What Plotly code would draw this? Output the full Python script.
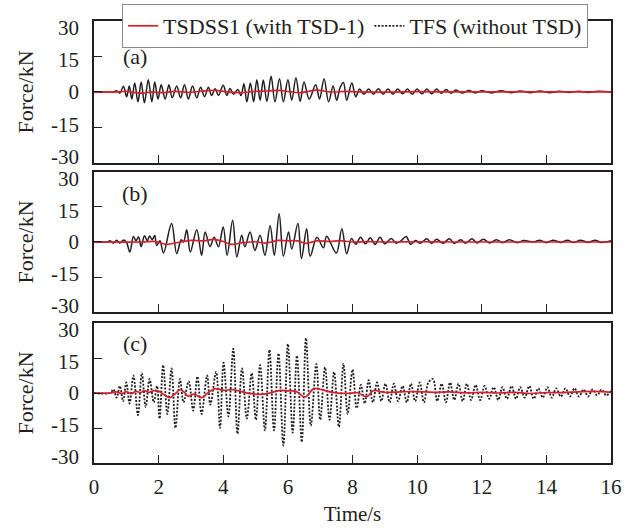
import plotly.graph_objects as go

# ---------------- data ----------------
x_ticks = [0, 2, 4, 6, 8, 10, 12, 14, 16]
x_ticklabels = ["0", "2", "4", "6", "8", "10", "12", "14", "16"]
y_ticks = [30, 15, 0, -15, -30]
y_ticklabels = ["30", "15", "0", "-15", "-30"]
panel_labels = ["(a)", "(b)", "(c)"]
series_names = ["TSDSS1 (with TSD-1)", "TFS (without TSD)"]

# Panel (a) - TFS (without TSD), extrema
t_a_tfs = [0, 0.6, 0.7, 0.8, 0.91, 1.01, 1.09, 1.17, 1.26, 1.36, 1.46, 1.56, 1.68, 1.79, 1.88, 1.98,
           2.08, 2.2, 2.32, 2.42, 2.56, 2.68, 2.8, 2.92, 3.05, 3.18, 3.3, 3.42, 3.54, 3.64, 3.75, 3.85,
           4.0, 4.11, 4.21, 4.32, 4.45, 4.55, 4.64, 4.73, 4.84, 4.94, 5.04, 5.14, 5.24, 5.35, 5.48, 5.6,
           5.74, 5.86, 6.0, 6.12, 6.25, 6.38, 6.5, 6.66, 6.86, 6.98, 7.12, 7.26, 7.4, 7.51, 7.62, 7.72,
           7.82, 7.98, 8.1, 8.22, 8.35, 8.5, 8.65, 8.8, 8.95, 9.1, 9.25, 9.4, 9.55, 9.7, 9.85, 10.0,
           10.15, 10.3, 10.45, 10.6, 10.75, 10.9, 11.05, 11.2, 11.4, 11.6, 11.8, 12.0, 12.3, 12.6, 12.9,
           13.2, 13.5, 13.8, 14.1, 14.4, 14.7, 15.0, 15.3, 15.6, 16.0]
f_a_tfs = [0, 0, 0.5, -0.5, 2.4, -2, 2.5, -3, 3.8, -4.2, 4.2, -4.6, 5.2, -4.2, 4.2, -3,
           3, -3, 3, -2.5, 2.5, -2.5, 3, -3, 2.5, -2.5, 2, -2, 2, -1.5, 1.4, -1.4,
           2.8, -1.5, 1.5, -1, 1, -1.5, 3.5, -4.2, 3.8, -4.2, 5.2, -3.5, 5, -4, 6.6, -4.2,
           5.6, -4.2, 5.2, -3.5, 6, -4, 4.2, -3, 3, -3, 5.6, -4.2, 2.5, -3.5, 2, 4,
           -3.5, 3.8, -2, 1.2, -1, 1.2, -1, 1.4, -1, 1.2, -1, 1.2, -0.8, 1.2, -1, 1.2,
           -0.8, 1.2, -0.8, 1.2, -0.6, 1.0, -0.6, 0.8, -0.5, 0.6, -0.4, 0.5, -0.4, 0.5, -0.3,
           0.4, -0.3, 0.4, -0.3, 0.3, -0.2, 0.3, -0.2, 0.3, 0]

# Panel (a) - TSDSS1 (with TSD-1)
t_a_tsd = [0, 0.8, 1.0, 1.2, 1.5, 1.8, 2.1, 2.5, 2.9, 3.3, 3.75, 4.1, 4.5, 5.0, 5.4, 5.7, 6.1,
           6.4, 6.9, 7.3, 7.8, 8.2, 9.0, 10.0, 11.0, 12.0, 13.0, 14.0, 16.0]
f_a_tsd = [0, 0, 0.3, -0.2, -0.5, 0, -0.3, 0.2, -0.2, 0.3, 0.7, 0, -0.3, 0.2, 0.4, 0.7, 0,
           -0.3, 0.8, 0, 0.2, 0, -0.1, 0.1, 0, 0, 0, 0, 0]

# Panel (b) - TFS (without TSD)
t_b_tfs = [0, 0.4, 0.5, 0.6, 0.7, 0.8, 0.9, 1.0, 1.11, 1.22, 1.3, 1.38, 1.46, 1.56, 1.65, 1.72,
           1.8, 1.88, 1.94, 2.04, 2.15, 2.4, 2.56, 2.7, 2.77, 2.87, 2.98, 3.18, 3.33, 3.44, 3.59,
           3.72, 3.85, 4.0, 4.12, 4.29, 4.42, 4.57, 4.67, 4.83, 4.98, 5.14, 5.29, 5.45, 5.58, 5.73,
           5.86, 6.02, 6.12, 6.31, 6.42, 6.58, 6.69, 6.9, 7.1, 7.2, 7.5, 7.67, 7.82, 7.97, 8.1,
           8.25, 8.4, 8.55, 8.7, 8.85, 9.0, 9.2, 9.35, 9.5, 9.66, 9.8, 9.95, 10.1, 10.3, 10.45,
           10.6, 10.8, 11.0, 11.15, 11.35, 11.5, 11.7, 11.85, 12.05, 12.25, 12.45, 12.65, 12.85,
           13.1, 13.3, 13.6, 13.8, 14.0, 14.2, 14.45, 14.65, 14.85, 15.05, 15.3, 15.5, 15.7, 16.0]
f_b_tfs = [0, 0, 0.5, -0.5, 0.8, -0.5, 0.8, 0, -4.3, 2.4, 0.5, 2.2, -2, 2.7, 0.5, 2.6,
           1, 2.8, -1.5, 0.5, -4.7, 7.9, -5, 1, 0, 5.3, -4.3, 5.3, -5.7, 4.3, -2,
           2, -2, 6.4, -5.7, 9.3, -6.4, 2.9, -2, 4.3, -3.6, 2.9, -5.7, 7.1, -5.7, 12.1,
           -6.1, 4.3, -3, 7.9, -7.1, 5.7, -6.1, 2, -2.5, 2.5, -4.7, 5.7, -5, 1.5, -1,
           2, -0.8, 1.8, -1, 2, -0.8, 1.5, -0.5, 0.5, 2.4, -1, 0.6, -0.5, 1.4, -0.6,
           1.2, -0.5, 1.4, -0.6, 1.0, -0.5, 1.4, -0.4, 1.2, -0.4, 1.0, -0.3, 1.0,
           -0.3, 0.6, 0, 0.8, -0.3, 0.8, -0.2, 0.8, -0.2, 0.8, -0.2, 0.8, -0.2, 0.5]

# Panel (b) - TSDSS1 (with TSD-1)
t_b_tsd = [0, 1.5, 1.9, 2.25, 2.6, 3.0, 3.4, 3.7, 4.0, 4.25, 4.6, 5.0, 5.3, 5.7, 6.0, 6.3, 6.55,
           6.9, 7.3, 7.6, 8.0, 8.5, 9.0, 10.0, 11.0, 12.0, 14.0, 16.0]
f_b_tsd = [0, 0, 0.2, -1.0, -0.2, 0.7, 0.5, 1.1, 0.2, -1.0, -0.3, 0.1, -0.5, 0.7, 0.5, 0.5, -0.6,
           0.5, 0.2, 0.6, 0, 0.2, 0, 0.1, 0, 0, 0, 0]

# Panel (c) - TFS (without TSD)
t_c_tfs = [0, 0.5, 0.6, 0.7, 0.8, 0.9, 1.0, 1.1, 1.22, 1.36, 1.48, 1.6, 1.72, 1.85, 1.95, 2.03,
           2.14, 2.27, 2.4, 2.52, 2.66, 2.77, 2.93, 3.07, 3.2, 3.33, 3.5, 3.6, 3.78, 3.9, 4.01,
           4.16, 4.31, 4.44, 4.58, 4.73, 4.88, 5.01, 5.14, 5.29, 5.43, 5.57, 5.71, 5.86, 6.0, 6.15,
           6.28, 6.43, 6.56, 6.71, 6.88, 7.0, 7.15, 7.29, 7.43, 7.58, 7.72, 7.85, 8.0, 8.13, 8.26,
           8.38, 8.5, 8.63, 8.76, 8.89, 9.02, 9.15, 9.28, 9.41, 9.55, 9.68, 9.81, 9.94, 10.08,
           10.21, 10.35, 10.49, 10.62, 10.76, 10.89, 11.02, 11.15, 11.28, 11.41, 11.54, 11.67,
           11.81, 11.95, 12.09, 12.23, 12.37, 12.51, 12.64, 12.78, 12.92, 13.06, 13.19, 13.33,
           13.47, 13.61, 13.75, 13.89, 14.03, 14.17, 14.3, 14.45, 14.59, 14.73, 14.87, 15.01,
           15.15, 15.29, 15.43, 15.57, 15.71, 15.85, 16.0]
f_c_tfs = [0, 0, 1.5, -2, 3, -3.5, 4.5, -4.5, 7.5, -9.5, 8.5, -6, 6, -4, 3, -11,
           12, -9, 10.5, -15, 6, -4, 5, -7.5, 7, -9, 7.5, -5, 9, -15, 13,
           -10, 19, -17.5, 10.5, -11, 8.5, -11.5, 12, -16, 18.5, -16, 17, -22.5, 21, -17,
           16, -21, 23.5, -14, 12.5, -11.5, 11, -11.5, 9, -14.5, 12.5, -9, 10, -6.5, 3.5,
           -4.5, 5.5, -4, 4.5, -3.5, 4, -4, 4, -3.5, 3, -4, 4, -3.5, 4.5,
           -4, 4.5, 6, -3.5, 4, -4, 4.5, -3, 4, -3.5, 4, -3,
           3.5, -3, 3, -2.5, 2.5, -3, 2.5, -2.5, 3, -2.5, 2.5, -2, 3,
           -2.5, 2, -2, 2.5, -2, 2, -1.5, 2, -1.5, 2, -1.5, 1.5,
           -1.5, 1.5, -1, 1.5, -1, 1, -0.5]

# Panel (c) - TSDSS1 (with TSD-1)
t_c_tsd = [0, 0.5, 0.7, 0.85, 1.0, 1.15, 1.3, 1.45, 1.55, 1.7, 1.85, 2.0, 2.2, 2.35, 2.5, 2.66,
           2.8, 2.9, 3.1, 3.33, 3.55, 3.75, 4.0, 4.3, 4.6, 4.85, 5.25, 5.5, 5.76, 6.0, 6.25, 6.53,
           6.8, 7.0, 7.3, 7.8, 8.15, 8.44, 8.65, 9.0, 9.5, 10.0, 10.5, 11.0, 11.5, 12.0, 12.5,
           13.0, 13.5, 14.0, 14.5, 15.0, 15.5, 16.0]
f_c_tsd = [0, 0, 0.5, -0.3, 0.6, -0.3, 0.7, 0.2, 1.0, 0.3, 1.0, 0.8, -1.0, -2.0, -0.5, 1.4,
           0.3, -1.3, -0.5, -2.0, 0.3, 1.9, 1.2, 1.4, 0.5, -0.3, -0.5, 0.2, 1.1, 0.9, 0.7, -1.7,
           1.9, 1.6, 0.5, -0.2, 0.1, -1.6, 1.0, 0.3, 0.5, 0.6, 0.3, 0.5, 0.1, 0.3, 0,
           0.3, -0.2, 0.2, 0.2, 0.5, 0.7, 0.3]

# ---------------- figure ----------------
RED = "#d2202c"
BLACK = "#231f20"
FONT = "Liberation Serif"
DOT = "2px,1.6px"

fig = go.Figure()

panels = [
    (t_a_tfs, f_a_tfs, t_a_tsd, f_a_tsd, "solid", 1.5),
    (t_b_tfs, f_b_tfs, t_b_tsd, f_b_tsd, "solid", 1.5),
    (t_c_tfs, f_c_tfs, t_c_tsd, f_c_tsd, DOT, 1.8),
]

for i, (tt, ft, tr, fr, dash, w) in enumerate(panels):
    n = "" if i == 0 else str(i + 1)
    fig.add_trace(go.Scatter(
        x=tt, y=ft, mode="lines", xaxis="x" + n, yaxis="y" + n,
        line=dict(color=BLACK, width=w, dash=dash, shape="spline", smoothing=1.0),
        name=series_names[1], showlegend=(i == 2), legendrank=2,
    ))
    fig.add_trace(go.Scatter(
        x=tr, y=fr, mode="lines", xaxis="x" + n, yaxis="y" + n,
        line=dict(color=RED, width=1.7, shape="spline", smoothing=1.0),
        name=series_names[0], showlegend=(i == 2), legendrank=1,
    ))
    # empty trace that activates the label-only companion y axis of this panel
    fig.add_trace(go.Scatter(
        x=[], y=[], mode="lines", xaxis="x" + n, yaxis="y" + str(i + 4),
        showlegend=False, hoverinfo="skip",
    ))

domains = [[0.679, 1.0], [0.3416, 0.6584], [0.0, 0.3167]]
label_y = [14.8, 20.7, 21.3]

tickfont = dict(family=FONT, size=21, color=BLACK)
axis_common = dict(
    showline=True, linecolor=BLACK, linewidth=1.5, mirror=True,
    ticks="inside", ticklen=8, tickwidth=1.2, tickcolor=BLACK,
    showgrid=False, zeroline=False, tickfont=tickfont,
)

layout = dict(
    width=633, height=528,
    margin=dict(l=94, r=22, t=21, b=65, autoexpand=False),
    paper_bgcolor="white", plot_bgcolor="white",
    font=dict(family=FONT, size=21, color=BLACK),
    legend=dict(
        orientation="h", x=0.505, xanchor="center", y=1.0385, yanchor="top",
        bgcolor="white", bordercolor="#8a8a8a", borderwidth=1,
        font=dict(family=FONT, size=22, color=BLACK),
        itemwidth=30, traceorder="normal",
    ),
    annotations=[],
)

for i in range(3):
    n = "" if i == 0 else str(i + 1)
    xa = dict(axis_common, domain=[0, 1], range=[0, 16], tickvals=x_ticks,
              ticktext=x_ticklabels, anchor="y" + n,
              showticklabels=(i == 2), ticklabelstandoff=4)
    if i > 0:
        xa["matches"] = "x"
    if i == 2:
        xa["title"] = dict(text="Time/s", font=dict(family=FONT, size=21, color=BLACK), standoff=8)
    ya = dict(axis_common, domain=domains[i], range=[-30, 30], tickvals=y_ticks,
              showticklabels=False, anchor="x" + n,
              title=dict(text="Force/kN", font=dict(family=FONT, size=22, color=BLACK), standoff=53))
    layout["xaxis" + n] = xa
    layout["yaxis" + n] = ya
    # label-only companion axis: the reference prints its tick labels slightly compressed
    layout["yaxis" + str(i + 4)] = dict(
        overlaying="y" + n, anchor="x" + n, side="left", range=[-33, 33],
        tickvals=y_ticks, ticktext=y_ticklabels, ticks="", showline=False,
        showgrid=False, zeroline=False, tickfont=tickfont, ticklabelstandoff=14,
    )
    layout["annotations"].append(dict(
        x=1.26, y=label_y[i], xref="x" + n, yref="y" + n,
        text=panel_labels[i], showarrow=False, font=dict(family=FONT, size=22, color=BLACK),
        xanchor="center", yanchor="middle",
    ))

fig.update_layout(**layout)
fig.write_html("out.html")
